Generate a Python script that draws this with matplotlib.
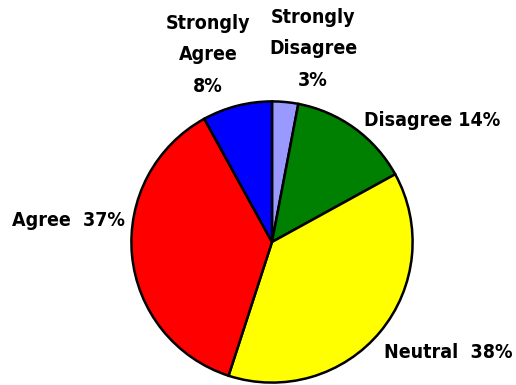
import matplotlib
matplotlib.use("Agg")
import matplotlib.pyplot as plt

categories = ["Strongly Disagree", "Disagree", "Neutral", "Agree", "Strongly Agree"]
percentages = [3, 14, 38, 37, 8]
colors = ["#9999FF", "#008000", "#FFFF00", "#FF0000", "#0000FF"]

W, H = 516, 385
fig = plt.figure(figsize=(W / 100, H / 100), dpi=100)

# pie centred at (272, 242) px from top-left, radius 142 px
cx, cy, r = 272, 242, 142
ax = fig.add_axes([(cx - r) / W, (H - cy - r) / H, 2 * r / W, 2 * r / H])
ax.pie(percentages, colors=colors, startangle=90, counterclock=False,
       radius=1, wedgeprops=dict(edgecolor="black", linewidth=1.8))
ax.set_xlim(-1.01, 1.01)
ax.set_ylim(-1.01, 1.01)
ax.set_aspect("auto")
ax.axis("off")

font = dict(family="DejaVu Sans", fontstretch="condensed", fontweight="bold",
            fontsize=14, color="black")

def label(x, y, s, ha="center", ls=1.85):
    fig.text(x / W, 1 - y / H, s, ha=ha, va="center", linespacing=ls, **font)

label(313, 49, "Strongly\nDisagree\n3%")
label(208, 55, "Strongly\nAgree\n8%")
label(500, 121, "Disagree 14%", ha="right")
label(12, 220, "Agree  37%", ha="left")
label(512, 352, "Neutral  38%", ha="right")

fig.savefig("out.png", dpi=100)
